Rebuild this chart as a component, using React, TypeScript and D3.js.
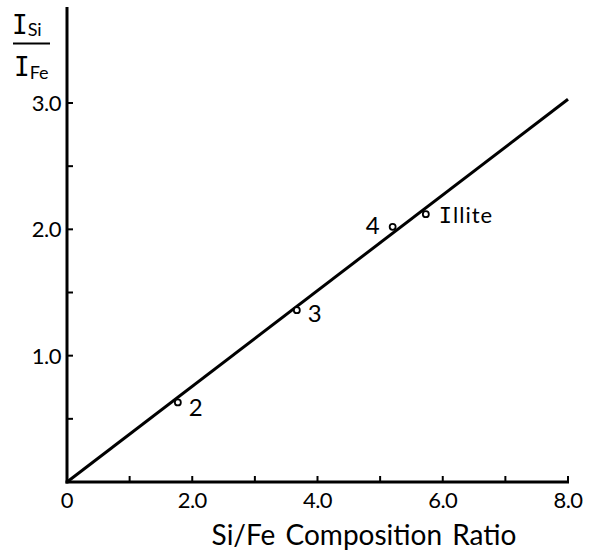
import React from "react";
import * as d3 from "d3";

const majorXTicks = [0, 2, 4, 6, 8];
const minorXTicks = [1, 3, 5, 7];
const xTickLabels = ["0", "2.0", "4.0", "6.0", "8.0"];
const yTicks = [0.5, 1, 1.5, 2, 2.5, 3];
const yTickLabelValues = [1, 2, 3];
const yTickLabels = ["1.0", "2.0", "3.0"];
const fitLine = [
  [0, 0],
  [8.0, 3.03],
];
const pointX = [1.77, 3.67, 5.2, 5.73];
const pointY = [0.63, 1.36, 2.02, 2.12];
const pointLabels = ["2", "3", "4", "Illite"];

const W = 593;
const H = 550;
const FONT = "Lato, 'Open Sans', sans-serif";

export default function App() {
  const x = d3.scaleLinear().domain([0, 8]).range([67, 568]);
  const y = d3.scaleLinear().domain([0, 3]).range([482, 103]);
  const line = d3
    .line<number[]>()
    .x((d) => x(d[0]))
    .y((d) => y(d[1]));

  const labelOffsets: Record<string, [number, number, string]> = {
    "2": [11, 14, "start"],
    "3": [11, 12, "start"],
    "4": [-13, 7, "end"],
    Illite: [13, 9, "start"],
  };

  return (
    <svg
      width={W}
      height={H}
      style={{ position: "absolute", left: 0, top: 0, background: "#fff" }}
    >
      {/* axes */}
      <line x1={x(0)} y1={7} x2={x(0)} y2={y(0) + 1.5} stroke="#000" strokeWidth={3} />
      <line x1={x(0) - 1.5} y1={y(0)} x2={x(8) + 1} y2={y(0)} stroke="#000" strokeWidth={3} />
      {/* x ticks */}
      {majorXTicks.concat(minorXTicks).map((t) => (
        <line key={"xt" + t} x1={x(t)} x2={x(t)} y1={y(0)} y2={y(0) - 6} stroke="#000" strokeWidth={2} />
      ))}
      {majorXTicks.map((t, i) => (
        <text
          key={"xl" + t}
          x={x(t)}
          y={y(0) + 26}
          textAnchor="middle"
          fontFamily={FONT}
          fontSize={22}
          letterSpacing={-0.5}
        >
          {xTickLabels[i]}
        </text>
      ))}
      {/* y ticks */}
      {yTicks.map((t) => (
        <line key={"yt" + t} x1={x(0)} x2={x(0) + 6} y1={y(t)} y2={y(t)} stroke="#000" strokeWidth={2} />
      ))}
      {yTickLabelValues.map((t, i) => (
        <text
          key={"yl" + t}
          x={x(0) - 6}
          y={y(t) + 8}
          textAnchor="end"
          fontFamily={FONT}
          fontSize={22}
          letterSpacing={-0.5}
        >
          {yTickLabels[i]}
        </text>
      ))}
      {/* fit line */}
      <path d={line(fitLine) || ""} fill="none" stroke="#000" strokeWidth={3} />
      {/* points */}
      {pointX.map((px, i) => {
        const [dx, dy, anchor] = labelOffsets[pointLabels[i]];
        const lbl = pointLabels[i];
        return (
          <g key={"p" + i}>
            <circle cx={x(px)} cy={y(pointY[i])} r={3} fill="#fff" stroke="#000" strokeWidth={1.8} />
            <text
              x={x(px) + dx}
              y={y(pointY[i]) + dy}
              textAnchor={anchor}
              fontFamily={FONT}
              fontSize={lbl === "Illite" ? 22 : 24}
              letterSpacing={lbl === "Illite" ? 1 : 0}
            >
              {lbl === "Illite" ? (
                <>
                  <tspan fontFamily="'DejaVu Sans Mono', monospace">I</tspan>
                  <tspan>llite</tspan>
                </>
              ) : (
                lbl
              )}
            </text>
          </g>
        );
      })}
      {/* x axis title */}
      <text
        x={364}
        y={545}
        textAnchor="middle"
        fontFamily={FONT}
        fontSize={28}
        wordSpacing={3}
      >
        Si/Fe Composition Ratio
      </text>
      {/* y axis title: I_Si / I_Fe */}
      <text x={12} y={34} fontFamily={FONT} fontSize={26}>
        <tspan fontFamily="'DejaVu Sans Mono', monospace">I</tspan>
        <tspan fontSize={18} dy={2}>Si</tspan>
      </text>
      <line x1={13} x2={50} y1={43.5} y2={43.5} stroke="#000" strokeWidth={2} />
      <text x={14} y={76} fontFamily={FONT} fontSize={26}>
        <tspan fontFamily="'DejaVu Sans Mono', monospace">I</tspan>
        <tspan fontSize={18} dy={3}>Fe</tspan>
      </text>
    </svg>
  );
}
